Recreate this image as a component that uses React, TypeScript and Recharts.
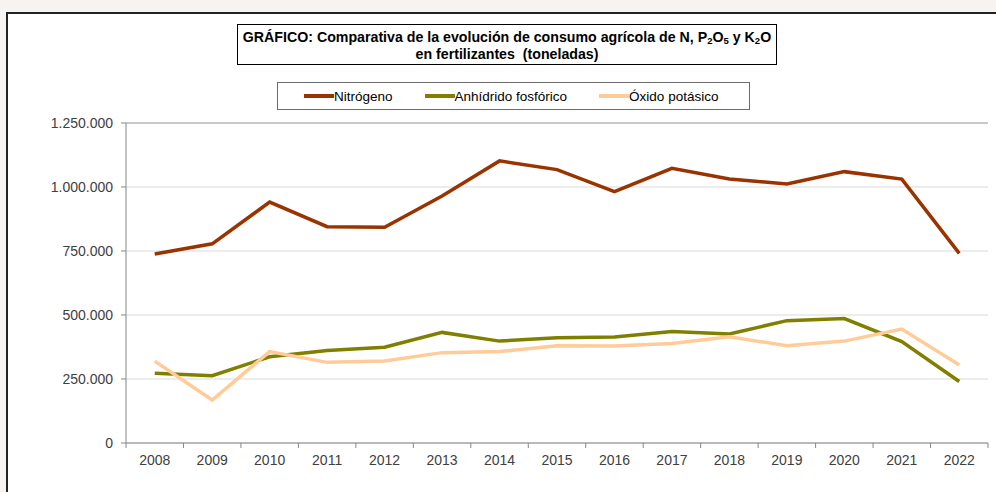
import React from 'react';
import { LineChart, Line, XAxis, YAxis, CartesianGrid, ReferenceLine } from 'recharts';

// consumo agrícola en toneladas
const years = ['2008', '2009', '2010', '2011', '2012', '2013', '2014', '2015', '2016', '2017', '2018', '2019', '2020', '2021', '2022'];
const nitrogeno = [738000, 778000, 941000, 845000, 843000, 965000, 1102000, 1068000, 982000, 1073000, 1031000, 1012000, 1060000, 1031000, 741000];
const fosforico = [272000, 263000, 337000, 361000, 374000, 432000, 398000, 411000, 414000, 436000, 426000, 478000, 486000, 396000, 240000];
const potasico = [320000, 168000, 357000, 315000, 320000, 353000, 357000, 380000, 379000, 389000, 415000, 380000, 398000, 445000, 305000];
const yTicks = [0, 250000, 500000, 750000, 1000000, 1250000];

const series = [
  { key: 'nitrogeno', name: 'Nitrógeno', color: '#993300' },
  { key: 'fosforico', name: 'Anhídrido fosfórico', color: '#808000' },
  { key: 'potasico', name: 'Óxido potásico', color: '#FFCC99' },
];

const data = years.map((year, i) => ({
  year,
  nitrogeno: nitrogeno[i],
  fosforico: fosforico[i],
  potasico: potasico[i],
}));

const FONT = '"Liberation Sans", Arial, sans-serif';
const AXIS = '#868686';

const formatMiles = (v: number) => String(v).replace(/\B(?=(\d{3})+(?!\d))/g, '.');

// Excel pone las marcas del eje X entre categorías
const YearTick = (props: any) => {
  const { x, y, payload, index, visibleTicksCount } = props;
  const half = payload?.offset ?? 0;
  return (
    <g>
      <line x1={x - half} x2={x - half} y1={y - 5} y2={y} stroke={AXIS} />
      {index === visibleTicksCount - 1 && (
        <line x1={x + half} x2={x + half} y1={y - 5} y2={y} stroke={AXIS} />
      )}
      <text x={x} y={y + 17} textAnchor="middle" fontSize={14} fill="#404040" fontFamily={FONT}>
        {payload.value}
      </text>
    </g>
  );
};

const subStyle = { fontSize: 9.5, verticalAlign: -2, lineHeight: 0 };

export default function App() {
  return (
    <div style={{ position: 'absolute', left: 0, top: 0, width: 996, height: 492, background: '#f6f3f0', overflow: 'hidden', fontFamily: FONT }}>
      <div style={{ position: 'absolute', left: 6, top: 12, width: 1000, height: 500, background: '#fff', borderLeft: '2px solid #222', borderTop: '2px solid #222' }} />

      <div
        style={{
          position: 'absolute', left: 237, top: 24, width: 538, height: 35,
          border: '1px solid #000', background: '#fff', textAlign: 'center',
          fontWeight: 'bold', fontSize: 14.2, lineHeight: '17px', paddingTop: 4, color: '#000',
        }}
      >
        GRÁFICO: Comparativa de la evolución de consumo agrícola de N, P<sub style={subStyle}>2</sub>O<sub style={subStyle}>5</sub> y K<sub style={subStyle}>2</sub>O
        <br />
        en fertilizantes&nbsp; (toneladas)
      </div>

      <div
        style={{
          position: 'absolute', left: 277, top: 82, width: 445, height: 26,
          border: '1px solid #6b6b6b', background: '#fff', display: 'flex',
          alignItems: 'center', paddingLeft: 26, boxSizing: 'content-box', fontSize: 13.5, color: '#000',
        }}
      >
        {series.map((s, i) => (
          <div key={s.key} style={{ display: 'flex', alignItems: 'center', marginRight: i < series.length - 1 ? 32 : 0 }}>
            <span style={{ display: 'inline-block', width: 30, height: 4, background: s.color }} />
            <span>{s.name}</span>
          </div>
        ))}
      </div>

      <div style={{ position: 'absolute', left: 0, top: 0 }}>
        <LineChart width={996} height={492} data={data} margin={{ top: 123, right: 8, bottom: 19, left: 46 }}>
          <CartesianGrid vertical={false} stroke="#d9d9d9" />
          <XAxis
            dataKey="year"
            scale="band"
            axisLine={{ stroke: AXIS }}
            tickLine={false}
            tickSize={5}
            tickMargin={0}
            height={30}
            interval={0}
            tick={<YearTick />}
          />
          <YAxis
            domain={[0, 1250000]}
            ticks={yTicks}
            width={80}
            axisLine={{ stroke: AXIS }}
            tickLine={{ stroke: AXIS }}
            tickSize={5}
            tickMargin={8}
            tick={{ fontSize: 14, fill: '#404040', fontFamily: FONT }}
            tickFormatter={formatMiles}
          />
          <YAxis yAxisId="borde" orientation="right" domain={[0, 1250000]} width={0} tick={false} tickLine={false} axisLine={{ stroke: '#a6a6a6' }} />
          <ReferenceLine y={1250000} stroke="#a6a6a6" />
          {series.map((s) => (
            <Line
              key={s.key}
              type="linear"
              dataKey={s.key}
              name={s.name}
              stroke={s.color}
              strokeWidth={3.5}
              dot={false}
              activeDot={false}
              isAnimationActive={false}
            />
          ))}
        </LineChart>
      </div>
    </div>
  );
}
